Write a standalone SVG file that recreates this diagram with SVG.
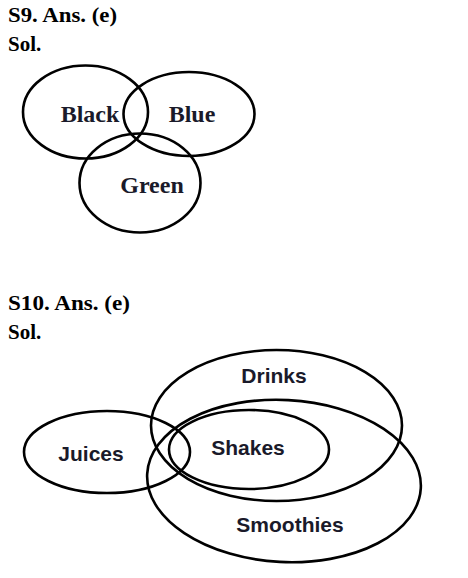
<svg xmlns="http://www.w3.org/2000/svg" width="468" height="578" viewBox="0 0 468 578">
<style>
.h{font-family:"Liberation Serif","DejaVu Serif",serif;font-weight:bold;font-size:21px;fill:#000}
.s{font-family:"Liberation Serif","DejaVu Serif",serif;font-weight:bold;font-size:24px;fill:#1a1a2a}
.l{font-family:"Liberation Sans","DejaVu Sans",sans-serif;font-weight:bold;font-size:21px;fill:#1a1a2a}
.e{fill:none;stroke:#000;stroke-width:2.6}
</style>
<rect width="468" height="578" fill="#fff"/>
<text class="h" x="8" y="22" textLength="109" lengthAdjust="spacingAndGlyphs">S9. Ans. (e)</text>
<text class="h" x="8" y="51">Sol.</text>
<g id="black"><ellipse class="e" cx="85.5" cy="112" rx="62.5" ry="46.5"/><text class="s" x="90" y="122" text-anchor="middle">Black</text></g>
<g id="blue"><ellipse class="e" cx="189" cy="114" rx="65.5" ry="42"/><text class="s" x="192" y="122" text-anchor="middle">Blue</text></g>
<g id="green"><ellipse class="e" cx="140" cy="183" rx="60.5" ry="49.5"/><text class="s" x="152" y="193" text-anchor="middle">Green</text></g>
<text class="h" x="8" y="310" textLength="122" lengthAdjust="spacingAndGlyphs">S10. Ans. (e)</text>
<text class="h" x="8" y="339">Sol.</text>
<g id="drinks"><ellipse class="e" cx="276.5" cy="425.5" rx="125.5" ry="75.5"/><text class="l" x="274" y="383" text-anchor="middle">Drinks</text></g>
<g id="smoothies"><ellipse class="e" cx="284" cy="481" rx="137" ry="81" transform="rotate(3 284 481)"/><text class="l" x="290" y="532" text-anchor="middle">Smoothies</text></g>
<g id="juices"><ellipse class="e" cx="107" cy="452" rx="83" ry="41"/><text class="l" x="91" y="461" text-anchor="middle">Juices</text></g>
<g id="shakes"><ellipse class="e" cx="249" cy="449.5" rx="80" ry="39.5"/><text class="l" x="248" y="455" text-anchor="middle">Shakes</text></g>
</svg>
